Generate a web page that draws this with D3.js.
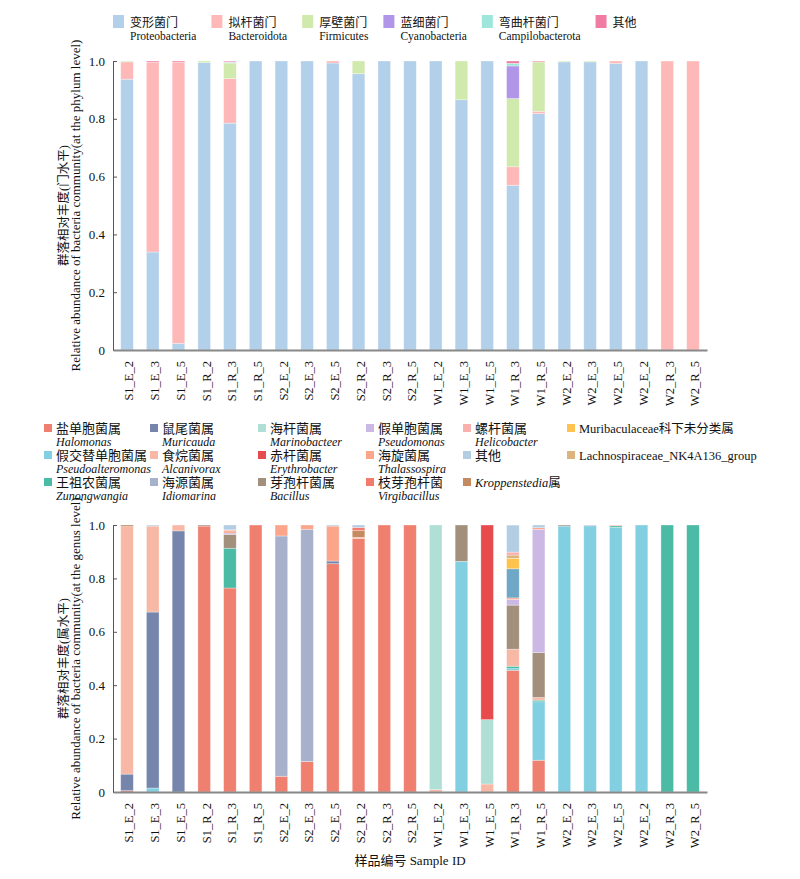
<!DOCTYPE html>
<html>
<head>
<meta charset="utf-8">
<script src="https://cdn.jsdelivr.net/npm/d3@7"></script>
<style>
  body { margin: 0; background: #fff; }
  svg text { font-family: "Times New Roman", "Liberation Serif", "DejaVu Serif", "Noto Sans CJK SC", serif; fill: #111; }
</style>
</head>
<body>
<script>
// sample ids (the reference repeats W2_E_2, so bars are keyed by index)
var samples = ["S1_E_2", "S1_E_3", "S1_E_5", "S1_R_2", "S1_R_3", "S1_R_5",
    "S2_E_2", "S2_E_3", "S2_E_5", "S2_R_2", "S2_R_3", "S2_R_5",
    "W1_E_2", "W1_E_3", "W1_E_5", "W1_R_3", "W1_R_5",
    "W2_E_2", "W2_E_3", "W2_E_5", "W2_E_2", "W2_R_3", "W2_R_5"];

var yTicks = [0, 0.2, 0.4, 0.6, 0.8, 1.0];

// ---- phylum level ----
var phylumCn = ["变形菌门", "拟杆菌门", "厚壁菌门", "蓝细菌门", "弯曲杆菌门", "其他"];
var phylumEn = ["Proteobacteria", "Bacteroidota", "Firmicutes", "Cyanobacteria", "Campilobacterota", ""];
var phylumColors = ["#b3d0eb", "#ffb8b8", "#d0e9ac", "#b095e8", "#9ee6dc", "#f07ca3"];

var proteobacteria = [0.937, 0.339, 0.023, 0.995, 0.785, 1, 1, 1, 0.993, 0.956, 1, 1, 1, 0.866, 1, 0.570, 0.818, 0.997, 0.997, 0.992, 1, 0, 0];
var bacteroidota = [0.060, 0.657, 0.973, 0, 0.154, 0, 0, 0, 0.007, 0, 0, 0, 0, 0, 0, 0.064, 0.008, 0, 0, 0.008, 0, 1, 1];
var firmicutes = [0.003, 0, 0, 0.005, 0.054, 0, 0, 0, 0, 0.044, 0, 0, 0, 0.134, 0, 0.236, 0.171, 0.003, 0.003, 0, 0, 0, 0];
var cyanobacteria = [0, 0, 0, 0, 0.002, 0, 0, 0, 0, 0, 0, 0, 0, 0, 0, 0.113, 0, 0, 0, 0, 0, 0, 0];
var campilobacterota = [0, 0, 0, 0, 0.002, 0, 0, 0, 0, 0, 0, 0, 0, 0, 0, 0.009, 0, 0, 0, 0, 0, 0, 0];
var phylumOther = [0, 0.004, 0.004, 0, 0.003, 0, 0, 0, 0, 0, 0, 0, 0, 0, 0, 0.008, 0.003, 0, 0, 0, 0, 0, 0];

// ---- genus level ----
var halomonas = [0.005, 0, 0, 0.996, 0.764, 1, 0.059, 0.114, 0.855, 0.950, 1, 1, 0, 0, 0, 0.456, 0.119, 0, 0, 0, 0, 0, 0];
var pseudoalteromonas = [0, 0.015, 0, 0, 0, 0, 0, 0, 0, 0, 0, 0, 0, 0.864, 0, 0.006, 0.219, 0.996, 0.997, 0.991, 1, 0, 0];
var zunongwangia = [0, 0, 0, 0, 0.149, 0, 0, 0, 0, 0, 0, 0, 0, 0, 0, 0.009, 0.006, 0, 0, 0.006, 0, 1, 1];
var muricauda = [0.062, 0.659, 0.978, 0, 0, 0, 0, 0, 0.010, 0, 0, 0, 0, 0, 0, 0, 0, 0, 0, 0, 0, 0, 0];
var alcanivorax = [0.927, 0.322, 0.022, 0, 0, 0, 0, 0, 0, 0, 0, 0, 0.009, 0, 0.030, 0.064, 0.010, 0, 0, 0, 0, 0, 0];
var idiomarina = [0, 0, 0, 0, 0, 0, 0.900, 0.870, 0, 0, 0, 0, 0, 0, 0, 0, 0, 0, 0.003, 0, 0, 0, 0];
var marinobacteer = [0, 0, 0, 0, 0, 0, 0, 0, 0, 0, 0, 0, 0.991, 0, 0.241, 0, 0, 0, 0, 0, 0, 0, 0];
var erythrobacter = [0, 0, 0, 0, 0, 0, 0, 0, 0, 0, 0, 0, 0, 0, 0.729, 0, 0, 0, 0, 0, 0, 0, 0];
var bacillus = [0, 0, 0, 0.004, 0.052, 0, 0, 0, 0, 0, 0, 0, 0, 0.136, 0, 0.165, 0.168, 0.004, 0, 0, 0, 0, 0];
var pseudomonas = [0, 0, 0, 0, 0.005, 0, 0, 0, 0, 0, 0, 0, 0, 0, 0, 0.021, 0.462, 0, 0, 0, 0, 0, 0];
var thalassospira = [0, 0, 0, 0, 0.008, 0, 0.041, 0.016, 0.131, 0.004, 0, 0, 0, 0, 0, 0.006, 0.006, 0, 0, 0, 0, 0, 0];
var kroppenstedia = [0.006, 0, 0, 0, 0, 0, 0, 0, 0, 0.025, 0, 0, 0, 0, 0, 0, 0, 0, 0, 0, 0, 0, 0];
var virgibacillus = [0, 0, 0, 0, 0, 0, 0, 0, 0, 0.012, 0, 0, 0, 0, 0, 0, 0, 0, 0, 0, 0, 0, 0];
var unlisted = [0, 0, 0, 0, 0, 0, 0, 0, 0, 0, 0, 0, 0, 0, 0, 0.109, 0, 0, 0, 0, 0, 0, 0];
var muribaculaceae = [0, 0, 0, 0, 0, 0, 0, 0, 0, 0, 0, 0, 0, 0, 0, 0.039, 0, 0, 0, 0, 0, 0, 0];
var lachnospiraceae = [0, 0, 0, 0, 0, 0, 0, 0, 0, 0, 0, 0, 0, 0, 0, 0.0125, 0, 0, 0, 0, 0, 0, 0];
var helicobacter = [0, 0, 0, 0, 0.004, 0, 0, 0, 0, 0, 0, 0, 0, 0, 0, 0.011, 0, 0, 0, 0.003, 0, 0, 0];
var genusOther = [0, 0.004, 0, 0, 0.018, 0, 0, 0, 0.004, 0.009, 0, 0, 0, 0, 0, 0.101, 0.010, 0, 0, 0, 0, 0, 0];

// stacking order, bottom to top
var genusKeys = ["Halomonas", "Pseudoalteromonas", "Zunongwangia", "Muricauda", "Alcanivorax", "Idiomarina",
    "Marinobacteer", "Erythrobacter", "Bacillus", "Pseudomonas", "Thalassospira", "Kroppenstedia",
    "Virgibacillus", "Unlisted", "Muribaculaceae", "Lachnospiraceae", "Helicobacter", "Other"];
var genusValues = [halomonas, pseudoalteromonas, zunongwangia, muricauda, alcanivorax, idiomarina,
    marinobacteer, erythrobacter, bacillus, pseudomonas, thalassospira, kroppenstedia,
    virgibacillus, unlisted, muribaculaceae, lachnospiraceae, helicobacter, genusOther];
var genusColors = ["#ef8070", "#81cfe1", "#4bbba5", "#7585ab", "#f7b9a5", "#a8b1cb",
    "#b0dfd5", "#e84b4d", "#a28f7c", "#cbb8e4", "#fba58a", "#c58a5f",
    "#f37b6b", "#6fa7c6", "#fec34e", "#dcb57e", "#f7b0ac", "#b3cde3"];

// legend, row by row
var genusLegendKeys = ["Halomonas", "Muricauda", "Marinobacteer", "Pseudomonas", "Helicobacter", "Muribaculaceae",
    "Pseudoalteromonas", "Alcanivorax", "Erythrobacter", "Thalassospira", "Other", "Lachnospiraceae",
    "Zunongwangia", "Idiomarina", "Bacillus", "Virgibacillus", "Kroppenstedia"];
var genusLegendCn = ["盐单胞菌属", "鼠尾菌属", "海杆菌属", "假单胞菌属", "螺杆菌属", "",
    "假交替单胞菌属", "食烷菌属", "赤杆菌属", "海旋菌属", "其他", "",
    "王祖农菌属", "海源菌属", "芽孢杆菌属", "枝芽孢杆菌", ""];

var width = 800, height = 879;
var left = 113, right = 707;

var svg = d3.select('body').append('svg')
    .attr('width', width)
    .attr('height', height);

var x = d3.scaleBand().domain(d3.range(samples.length)).range([left, right])
    .paddingInner(0.51).paddingOuter(0.3);

function color(keys, colors) {
    return d3.scaleOrdinal().domain(keys).range(colors);
}

function drawPanel(top, bottom, keys, values, colors, cnTitle, enTitle) {
    var y = d3.scaleLinear().domain([0, 1]).range([bottom, top]);
    var rows = samples.map(function (s, i) {
        var r = { i: i };
        keys.forEach(function (k, j) { r[k] = values[j][i]; });
        return r;
    });
    var series = d3.stack().keys(keys)(rows);
    var c = color(keys, colors);

    var g = svg.append('g');
    g.selectAll('.layer')
        .data(series)
        .enter().append('g')
        .attr('fill', function (d) { return c(d.key); })
        .selectAll('rect')
        .data(function (d) { return d.filter(function (p) { return p[1] - p[0] > 0; }); })
        .enter().append('rect')
        .attr('x', function (d) { return x(d.data.i); })
        .attr('width', x.bandwidth())
        .attr('y', function (d) { return y(d[1]); })
        .attr('height', function (d) { return y(d[0]) - y(d[1]); })
        .attr('stroke', '#fff')
        .attr('stroke-opacity', 0.45)
        .attr('stroke-width', 0.7);

    // y axis
    var ya = svg.append('g')
        .attr('transform', 'translate(' + left + ',0)')
        .call(d3.axisLeft(y).tickValues(yTicks).tickSize(-4).tickSizeOuter(-4).tickPadding(8)
            .tickFormat(function (d) { return d === 0 ? '0' : d3.format('.1f')(d); }));
    ya.attr('font-family', null);
    ya.select('.domain').attr('stroke', '#555');
    ya.selectAll('.tick line').attr('stroke', '#555');
    ya.selectAll('text').style('font-size', '13px').attr('fill', '#111');

    // x axis
    var xa = svg.append('g')
        .attr('transform', 'translate(0,' + bottom + ')')
        .call(d3.axisBottom(x).tickSize(0).tickSizeOuter(0)
            .tickFormat(function (i) { return samples[i]; }));
    xa.attr('font-family', null);
    xa.select('.domain').attr('stroke', '#888').attr('stroke-width', 2);
    xa.selectAll('text')
        .attr('transform', 'rotate(-90)')
        .attr('x', -11)
        .attr('y', 2)
        .attr('dy', '0.35em')
        .attr('text-anchor', 'end')
        .style('font-size', '12.5px')
        .attr('fill', '#111');

    var mid = (top + bottom) / 2;
    svg.append('text')
        .attr('transform', 'translate(68,' + mid + ') rotate(-90)')
        .attr('text-anchor', 'middle')
        .style('font-size', '12.5px')
        .text(cnTitle);
    svg.append('text')
        .attr('transform', 'translate(80,' + mid + ') rotate(-90)')
        .attr('text-anchor', 'middle')
        .style('font-size', '13px')
        .text(enTitle);
}

// top legend, items follow each other (spacing set by the latin line)
function drawPhylumLegend() {
    var cx = 113;
    phylumCn.forEach(function (cn, i) {
        var g = svg.append('g').attr('transform', 'translate(' + cx + ',0)');
        g.append('rect').attr('x', 0).attr('y', 15).attr('width', 11).attr('height', 13)
            .attr('fill', phylumColors[i]);
        var t1 = g.append('text').attr('x', 17).attr('y', 27).style('font-size', '12px').text(cn);
        var t2 = g.append('text').attr('x', 17).attr('y', 40).style('font-size', '11.5px').text(phylumEn[i]);
        var w = phylumEn[i] ? t2.node().getComputedTextLength() : t1.node().getComputedTextLength();
        cx += 17 + w + 15;
    });
}

function drawGenusLegend() {
    var colX = [44, 150, 258, 366, 463, 567];
    var rowY = [424, 451, 478];
    var c = color(genusKeys, genusColors);
    genusLegendKeys.forEach(function (k, i) {
        var g = svg.append('g')
            .attr('transform', 'translate(' + colX[i % 6] + ',' + rowY[Math.floor(i / 6)] + ')');
        g.append('rect').attr('width', 8).attr('height', 8).attr('fill', c(k));
        var cn = genusLegendCn[i];
        if (k === 'Muribaculaceae') {
            g.append('text').attr('x', 12).attr('y', 9).style('font-size', '12.5px').text('Muribaculaceae科下未分类属');
        } else if (k === 'Lachnospiraceae') {
            g.append('text').attr('x', 12).attr('y', 9).style('font-size', '12.5px').text('Lachnospiraceae_NK4A136_group');
        } else if (k === 'Kroppenstedia') {
            var t = g.append('text').attr('x', 12).attr('y', 9).style('font-size', '12.5px');
            t.append('tspan').style('font-style', 'italic').text('Kroppenstedia');
            t.append('tspan').text('属');
        } else {
            g.append('text').attr('x', 12).attr('y', 9).style('font-size', '13px').text(cn);
            if (k !== 'Other') {
                g.append('text').attr('x', 12).attr('y', 22).style('font-size', '12px')
                    .style('font-style', 'italic').text(k);
            }
        }
    });
}

drawPhylumLegend();
drawPanel(61, 350, ["p0", "p1", "p2", "p3", "p4", "p5"],
    [proteobacteria, bacteroidota, firmicutes, cyanobacteria, campilobacterota, phylumOther],
    phylumColors, '群落相对丰度(门水平)',
    'Relative abundance of bacteria community(at the phylum level)');

drawGenusLegend();
drawPanel(525, 792, genusKeys, genusValues, genusColors, '群落相对丰度(属水平)',
    'Relative abundance of bacteria community(at the genus level)');

svg.append('text')
    .attr('x', (left + right) / 2)
    .attr('y', 865)
    .attr('text-anchor', 'middle')
    .style('font-size', '13px')
    .text('样品编号 Sample ID');
</script>
</body>
</html>
